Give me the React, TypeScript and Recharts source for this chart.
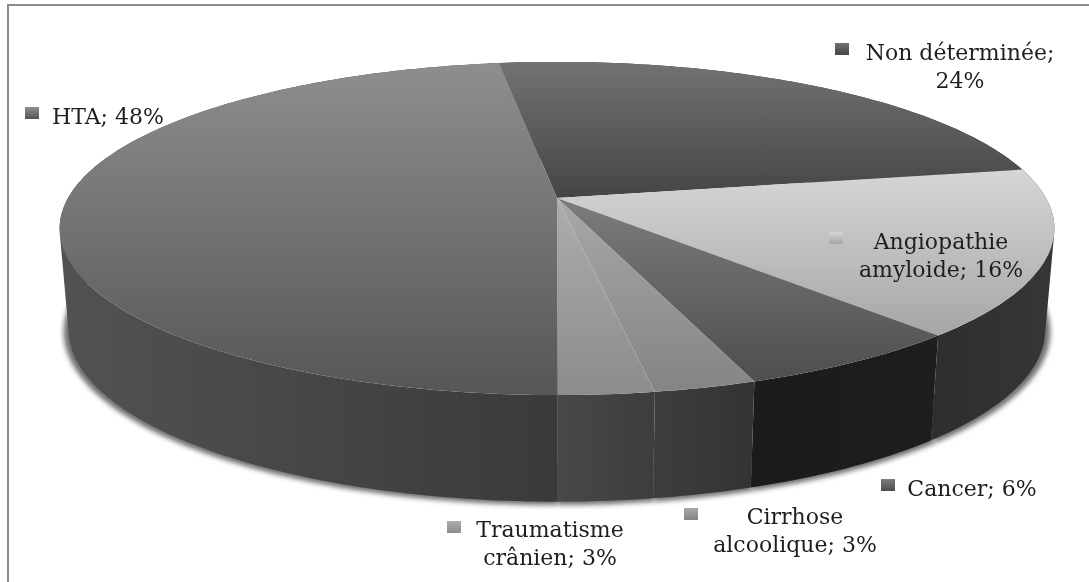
import { Pie, PieChart } from "recharts";

const categories = [
  "Non déterminée",
  "Angiopathie amyloide",
  "Cancer",
  "Cirrhose alcoolique",
  "Traumatisme crânien",
  "HTA",
];
const values = [24.3, 16.15, 6.35, 2.8, 2.6, 47.8];
const labelLines = [
  ["Non déterminée;", "24%"],
  ["Angiopathie", "amyloide; 16%"],
  ["Cancer; 6%"],
  ["Cirrhose", "alcoolique; 3%"],
  ["Traumatisme", "crânien; 3%"],
  ["HTA; 48%"],
];

// greys of the top face (upper, lower) and of the side wall (left, right)
const topColors = [
  ["#727272", "#454545"],
  ["#d6d6d6", "#a6a6a6"],
  ["#7c7c7c", "#4e4e4e"],
  ["#a8a8a8", "#848484"],
  ["#adadad", "#8c8c8c"],
  ["#8e8e8e", "#565656"],
];
const wallColors = [
  ["#333333", "#333333"],
  ["#2e2e2e", "#363636"],
  ["#1b1b1b", "#1e1e1e"],
  ["#3e3e3e", "#333333"],
  ["#484848", "#3d3d3d"],
  ["#525252", "#3a3a3a"],
];
// marker x, marker y, text centre x, first baseline
const labelPlaces = [
  [835, 43, 960, 60],
  [829, 232, 941, 249],
  [881, 479, 972, 496],
  [684, 508, 795, 524],
  [447, 521, 550, 537],
  [25, 107, 108, 124],
];

const data = categories.map((name, i) => ({ name, value: values[i] }));

const CX = 557;
const CY = 198;
const TILT = 0.183;
const TOP_RX = 489;
const TOP_RY = 161;
const FLOOR_CY = 298.5;
const FLOOR_RX = 480;
const FLOOR_RY = 166;

type Disc = { cy: number; rx: number; ry: number };
type Pt = [number, number];
const topDisc: Disc = { cy: CY, rx: TOP_RX, ry: TOP_RY };
const floorDisc: Disc = { cy: FLOOR_CY, rx: FLOOR_RX, ry: FLOOR_RY };
const shadowInner: Disc = { cy: FLOOR_CY - 30, rx: FLOOR_RX - 10, ry: FLOOR_RY - 6 };
const shadowOuter: Disc = { cy: FLOOR_CY + 1.5, rx: FLOOR_RX + 5, ry: FLOOR_RY + 1.5 };

// perspective view of a point on the disc rim
const project = (angle: number, d: Disc): Pt => {
  const rad = (angle * Math.PI) / 180;
  const u = Math.cos(rad);
  const v = -Math.sin(rad);
  const w = 1 - TILT * v;
  return [CX + (d.rx * u) / w, d.cy + (d.ry * v) / w];
};

const rim = (start: number, end: number, d: Disc) => {
  const steps = Math.max(2, Math.ceil(Math.abs(start - end)));
  const pts: Pt[] = [];
  for (let i = 0; i <= steps; i++) pts.push(project(start + ((end - start) * i) / steps, d));
  return pts;
};

const fmt = (p: Pt) => `${p[0].toFixed(1)},${p[1].toFixed(1)}`;

// band between two rims, one quad per step, all wound the same way so they add up
const band = (start: number, end: number, a: Disc, b: Disc) => {
  const upper = rim(start, end, a);
  const lower = rim(start, end, b);
  let path = "";
  for (let i = 0; i < upper.length - 1; i++) {
    const q = [upper[i], upper[i + 1], lower[i + 1], lower[i]];
    let area = 0;
    q.forEach((p, n) => {
      const r = q[(n + 1) % 4];
      area += p[0] * r[1] - r[0] * p[1];
    });
    if (area < 0) q.reverse();
    path += `M${q.map(fmt).join("L")}Z`;
  }
  return path;
};

const TopSlice = (props: any) => (
  <polygon
    points={[`${CX},${CY}`, ...rim(props.startAngle, props.endAngle, topDisc).map(fmt)].join(" ")}
    fill={`url(#top${props.index})`}
  />
);

const WallSlice = (props: any) => (
  <path
    d={band(props.startAngle, props.endAngle, topDisc, floorDisc)}
    fill={`url(#wall${props.index})`}
  />
);

const ShadowSlice = (props: any) => (
  <path
    d={band(props.startAngle, props.endAngle, shadowInner, shadowOuter)}
    fill="#707070"
    filter="url(#wallShadow)"
  />
);

const SliceLabel = (props: any) => {
  const i = props.index;
  const [mx, my, tx, ty] = labelPlaces[i];
  return (
    <g>
      <rect x={mx} y={my} width={14} height={12} fill={`url(#top${i})`} />
      <text
        textAnchor="middle"
        fontFamily="'DejaVu Serif'"
        fontSize={22}
        fill="#1e1e1e"
      >
        {labelLines[i].map((line, n) => (
          <tspan key={line} x={tx} y={ty + n * 28}>
            {line}
          </tspan>
        ))}
      </text>
    </g>
  );
};

export default function App() {
  return (
    <div style={{ position: "absolute", left: 0, top: 0, width: 1089, height: 582, background: "#fff", overflow: "hidden" }}>
      <div
        style={{
          position: "absolute",
          left: 7,
          top: 4,
          right: 0,
          bottom: 0,
          borderLeft: "2px solid #8c8c8c",
          borderTop: "2px solid #8c8c8c",
        }}
      />
      <div style={{ position: "absolute", left: 0, top: 0, filter: "blur(0.4px)" }}>
        <PieChart width={1089} height={582} margin={{ top: 0, right: 0, bottom: 0, left: 0 }}>
          <defs>
            <filter id="wallShadow" x="-10%" y="-10%" width="120%" height="120%">
              <feGaussianBlur stdDeviation="2.5" />
            </filter>
            {topColors.map((c, i) => (
              <linearGradient key={i} id={`top${i}`} x1="0" y1="0" x2="0" y2="1">
                <stop offset="0" stopColor={c[0]} />
                <stop offset="1" stopColor={c[1]} />
              </linearGradient>
            ))}
            {wallColors.map((c, i) => (
              <linearGradient key={i} id={`wall${i}`} x1="0" y1="0" x2="1" y2="0">
                <stop offset="0" stopColor={c[0]} />
                <stop offset="1" stopColor={c[1]} />
              </linearGradient>
            ))}
          </defs>
          {[ShadowSlice, WallSlice].map((Shape, n) => (
            <Pie
              key={n}
              data={data}
              dataKey="value"
              cx={CX}
              cy={CY}
              outerRadius={TOP_RX}
              startAngle={98}
              endAngle={-262}
              stroke="none"
              shape={Shape}
              isAnimationActive={false}
            />
          ))}
          <Pie
            data={data}
            dataKey="value"
            cx={CX}
            cy={CY}
            outerRadius={TOP_RX}
            startAngle={98}
            endAngle={-262}
            stroke="none"
            shape={TopSlice}
            label={SliceLabel}
            labelLine={false}
            isAnimationActive={false}
          />
        </PieChart>
      </div>
    </div>
  );
}
